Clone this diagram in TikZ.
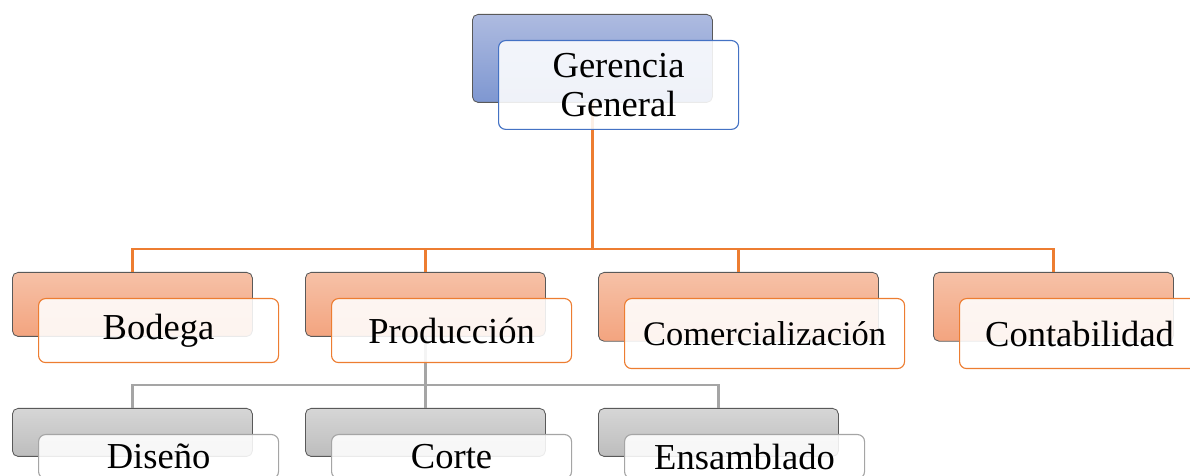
\documentclass[tikz,border=0pt]{standalone}
\usepackage{fontspec}
\setmainfont{Liberation Serif}
\usetikzlibrary{positioning,calc}
\definecolor{ocOrange}{HTML}{ED7D31}
\definecolor{ocBlue}{HTML}{4472C4}
\definecolor{ocGray}{HTML}{A5A5A5}
\definecolor{ocOrgTop}{HTML}{F6C1A7}
\definecolor{ocOrgBot}{HTML}{F3A47F}
\definecolor{ocBluTop}{HTML}{AEBBE0}
\definecolor{ocBluBot}{HTML}{7E97D1}
\definecolor{ocGryTop}{HTML}{D6D6D6}
\definecolor{ocGryBot}{HTML}{BDBDBD}

\begin{document}
\begin{tikzpicture}[
  font=\fontsize{26}{28}\selectfont,
  back/.style={rounded corners=4pt,draw=black!65,line width=0.6pt,anchor=north west,
               minimum width=6cm,minimum height=1.6cm,inner sep=0pt},
  bOrg/.style={back,top color=ocOrgTop,bottom color=ocOrgBot},
  bBlu/.style={back,top color=ocBluTop,bottom color=ocBluBot},
  bGry/.style={back,top color=ocGryTop,bottom color=ocGryBot,minimum height=1.2cm},
  front/.style={rounded corners=5pt,fill=white,fill opacity=0.88,text opacity=1,line width=0.8pt,
                anchor=north west,minimum width=6cm,minimum height=1.6cm,align=center,inner sep=2pt},
  fOrg/.style={front,draw=ocOrange},
  fBlu/.style={front,draw=ocBlue},
  fGry/.style={front,draw=ocGray,minimum height=1.1cm},
  orgline/.style={ocOrange,line width=1.9pt},
  gryline/.style={ocGray,line width=1.9pt},
]
\clip (0,0) rectangle (29.75,-11.9);

% back boxes
\node[bBlu,minimum height=2.2cm] (gerB) at (11.8,-0.35) {};
\node[bOrg] (bodB) at (0.3,-6.8) {};
\node[bOrg] (proB) at (7.625,-6.8) {};
\node[bOrg,minimum width=7cm,minimum height=1.72cm] (comB) at (14.95,-6.8) {};
\node[bOrg,minimum height=1.72cm] (conB) at (23.325,-6.8) {};
\node[bGry] (disB) at (0.3,-10.2) {};
\node[bGry] (corB) at (7.625,-10.2) {};
\node[bGry] (ensB) at (14.95,-10.2) {};

% connectors
\foreach \n in {bodB,proB,comB,conB}
  \draw[orgline] (gerB.south) -- ++(0,-3.65) -| (\n.north);
\foreach \n in {disB,corB,ensB}
  \draw[gryline] (proB.south) -- ++(0,-1.2) -| (\n.north);

% front boxes
\node[fBlu,minimum height=2.22cm] (ger) at ([shift={(0.65,-0.65)}]gerB.north west) {Gerencia\\General};
\node[fOrg] (bod) at ([shift={(0.65,-0.65)}]bodB.north west) {Bodega};
\node[fOrg] (pro) at ([shift={(0.65,-0.65)}]proB.north west) {Producción};
\node[fOrg,minimum width=7cm,minimum height=1.75cm] (com) at ([shift={(0.65,-0.65)}]comB.north west)
  {\fontsize{24.5}{26}\selectfont Comercialización};
\node[fOrg,minimum height=1.75cm] (con) at ([shift={(0.65,-0.65)}]conB.north west) {Contabilidad};
\node[fGry] (dis) at ([shift={(0.65,-0.65)}]disB.north west) {Diseño};
\node[fGry] (cor) at ([shift={(0.65,-0.65)}]corB.north west) {Corte};
\node[fGry] (ens) at ([shift={(0.65,-0.65)}]ensB.north west) {Ensamblado};
\end{tikzpicture}
\end{document}
